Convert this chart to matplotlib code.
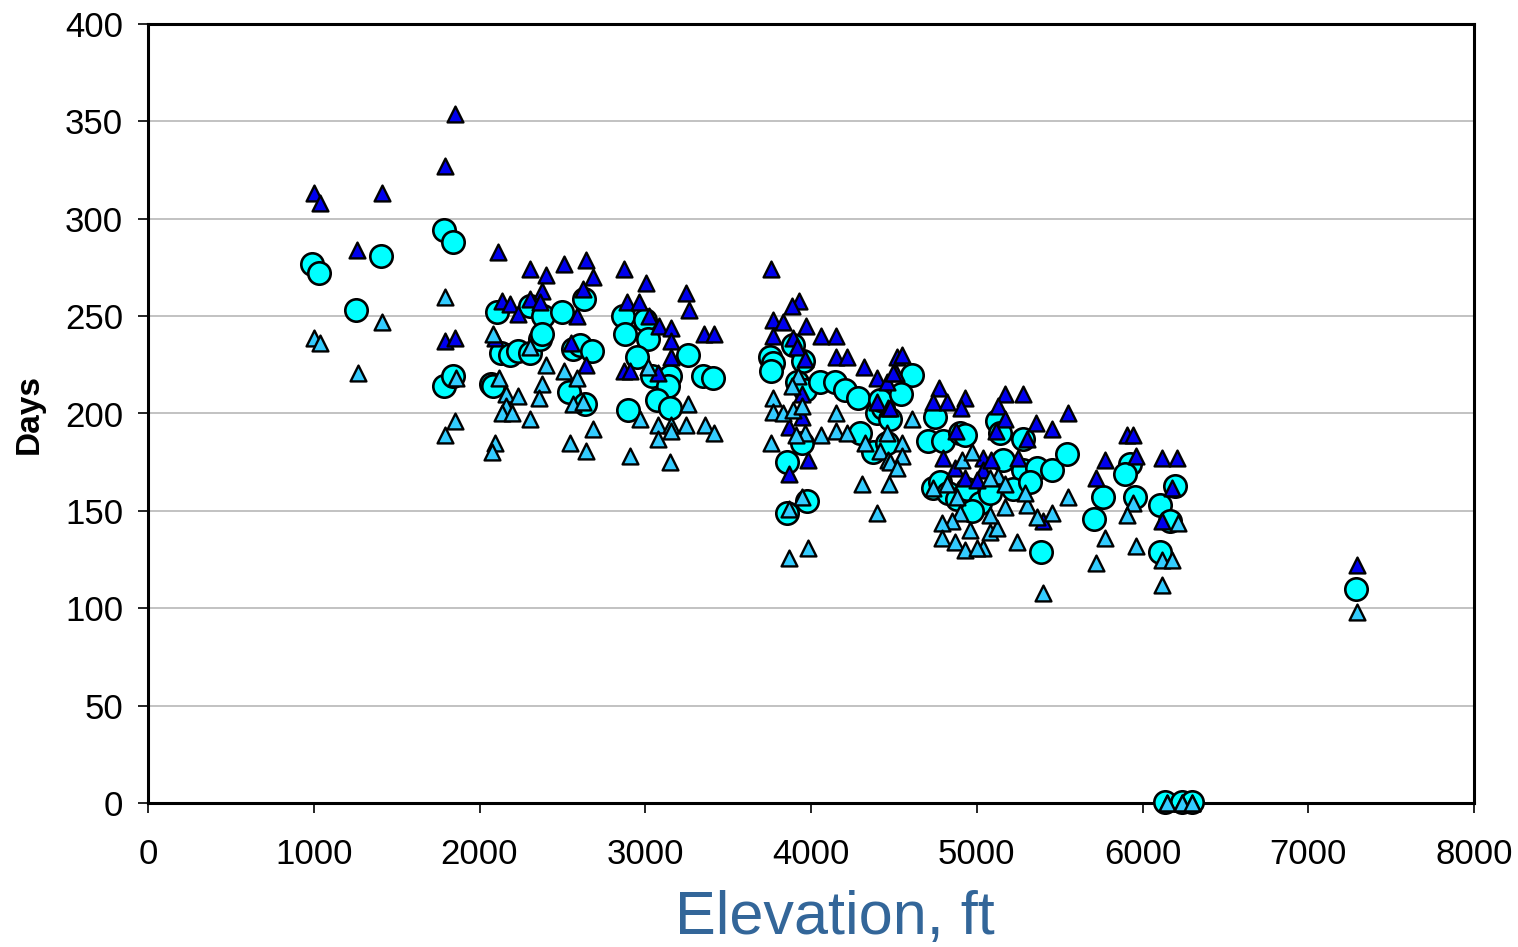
import matplotlib
matplotlib.use('Agg')
import matplotlib.pyplot as plt

plt.rcParams['font.family'] = ['Liberation Sans', 'DejaVu Sans']

# upper series (dark triangles)
hi_x = [1001, 1038, 1261, 1412, 1792, 1852, 1792, 1852, 2112, 2305, 2401, 2510, 2643, 2685,
        2377, 2624, 2136, 2184, 2305, 2365, 2232, 2588, 2094, 2552, 2643, 2870, 2890, 3004,
        3245, 3264, 2962, 3022, 3083, 3155, 3354, 3415, 3155, 3155, 2872, 2908, 3077,
        3758, 3927, 3885, 3771, 3831, 3970, 4060, 4151, 3771, 3891, 3915, 3964, 4151, 4217,
        4320, 4398, 4458, 4519, 4513, 3946, 4398, 4465, 3946, 3867, 3982, 3867,
        4549, 4495, 4772, 4736, 4820, 4929, 4905, 5170, 5279, 5128, 5170, 5116, 4875, 5303,
        4796, 4869, 5038, 5038, 4929, 5001, 5086, 5249, 4477,
        5550, 5357, 5454, 5906, 5942, 5773, 5960, 6117, 6208, 5719, 6178, 6117, 5400,
        6150, 6238, 6298, 7294]
hi_y = [313, 308, 284, 313, 327, 354, 237, 239, 283, 274, 271, 277, 279, 270,
        263, 264, 258, 256, 259, 257, 251, 250, 239, 236, 225, 274, 257, 267,
        262, 253, 257, 250, 245, 244, 241, 241, 237, 229, 222, 222, 221,
        274, 258, 255, 248, 247, 245, 240, 240, 240, 239, 234, 228, 229, 229,
        224, 218, 216, 229, 221, 210, 206, 203, 198, 193, 176, 169,
        230, 221, 213, 206, 206, 208, 203, 210, 210, 204, 197, 191, 191, 187,
        177, 172, 177, 171, 167, 166, 176, 177, 203,
        200, 195, 192, 189, 189, 176, 178, 177, 177, 167, 162, 145, 145,
        0, 0, 0, 122]

# middle series (cyan circles)
mean_x = [989, 1032, 1255, 1406, 1786, 1840, 1786, 1840,
          2106, 2305, 2383, 2497, 2630, 2130, 2184, 2232, 2305, 2365, 2377, 2564, 2606, 2679,
          2070, 2082, 2540, 2636,
          2866, 2998, 2878, 3016, 2950, 3258, 3040, 3149, 3348, 3409, 3137, 3071, 3149, 2896,
          3752, 3771, 3891, 3952, 3915, 3964, 4054, 4145, 4205, 4283, 4398, 4435, 3946, 4295,
          4374, 4458, 3855, 3855, 3976, 3760,
          4609, 4748, 4706, 4796, 4899, 4929, 5122, 5140, 5279, 5158, 5279, 4736, 4778, 4826,
          4881, 4941, 5019, 4971, 5080, 5219, 4416, 4477, 4540,
          5363, 5454, 5545, 5321, 5924, 5894, 6196, 5761, 5954, 6105, 5707, 6166, 5387, 6105,
          6135, 6238, 6298, 7288]
mean_y = [277, 272, 253, 281, 294, 288, 214, 219,
          252, 255, 250, 252, 259, 231, 230, 232, 231, 238, 241, 233, 235, 232,
          215, 214, 211, 205,
          250, 248, 241, 238, 229, 230, 219, 219, 219, 218, 214, 207, 203, 202,
          229, 226, 235, 227, 216, 212, 216, 216, 212, 208, 200, 203, 185, 190,
          180, 185, 175, 149, 155, 222,
          220, 198, 186, 186, 190, 189, 196, 190, 187, 176, 171, 162, 165, 159,
          156, 161, 154, 150, 159, 161, 207, 197, 210,
          172, 171, 179, 165, 174, 169, 163, 157, 157, 153, 146, 145, 129, 129,
          0.7, 0.7, 0.7, 110]

# lower series (light triangles)
lo_x = [1001, 1038, 1267, 1412, 1792, 1858, 1792, 1852,
        2118, 2160, 2232, 2377, 2359, 2160, 2136, 2196, 2305, 2401, 2510, 2588, 2564, 2624,
        2685, 2094, 2076, 2546, 2643, 2305, 2080,
        3016, 3258, 2968, 3077, 3155, 3245, 3360, 3415, 3077, 3155, 2908, 3149,
        3921, 3885, 3771, 3771, 3831, 3891, 4151, 3964, 3909, 4060, 4151, 4217, 3758, 4326,
        4416, 4458, 4465, 4307, 4471, 3946, 3867, 4398, 3982, 3867, 3946,
        4609, 4549, 4549, 4477, 4519, 4911, 4971, 5128, 5170, 4736, 4820, 4881, 4899, 4851,
        4790, 4959, 5080, 5122, 4790, 4869, 4929, 5038, 5001, 5243, 5080, 5170, 5303, 5291,
        5080,
        5550, 5942, 5906, 5363, 5454, 6214, 5773, 5960, 5719, 6117, 6178, 5400, 6117,
        6150, 6238, 6298, 7294]
lo_y = [239, 236, 221, 247, 260, 218, 189, 196,
        218, 210, 209, 215, 208, 204, 200, 200, 197, 225, 222, 218, 205, 206,
        192, 185, 180, 185, 181, 234, 241,
        224, 205, 197, 194, 194, 194, 194, 190, 187, 191, 178, 175,
        219, 214, 208, 201, 200, 202, 200, 190, 189, 189, 191, 190, 185, 185,
        181, 190, 176, 164, 164, 157, 151, 149, 131, 126, 204,
        197, 185, 178, 175, 172, 176, 180, 168, 164, 162, 164, 157, 149, 145,
        144, 140, 139, 141, 136, 134, 130, 131, 131, 134, 148, 152, 153, 159,
        167,
        157, 154, 148, 147, 149, 144, 136, 132, 123, 125, 125, 108, 112,
        0, 0, 0, 98]

fig = plt.figure(figsize=(15.18, 9.47), dpi=100)
ax = fig.add_axes([148/1518, 144/947, 1326/1518, 779/947])

ax.scatter(mean_x, mean_y, s=260, marker='o', facecolor='#00FFFF', edgecolor='black',
           linewidths=1.9, zorder=3, clip_on=False)
ax.scatter(hi_x, hi_y, s=130, marker='^', facecolor='#0000EE', edgecolor='black',
           linewidths=1.7, zorder=4, clip_on=False)
ax.scatter(lo_x, lo_y, s=130, marker='^', facecolor='#33CCFF', edgecolor='black',
           linewidths=1.7, zorder=5, clip_on=False)

ax.set_xlim(0, 8000)
ax.set_ylim(0, 400)
ax.set_xticks(range(0, 8001, 1000))
ax.set_yticks(range(0, 401, 50))
ax.yaxis.grid(True, color='#b8b8b8', linewidth=1.2)
ax.set_axisbelow(True)
for sp in ax.spines.values():
    sp.set_linewidth(2.2)
    sp.set_color('black')
ax.tick_params(axis='both', direction='out', length=7, width=1.2, labelsize=25)
ax.tick_params(axis='x', pad=18)
ax.tick_params(axis='y', pad=11)

ax.set_ylabel('Days', fontsize=24, fontweight='bold')
ax.yaxis.set_label_coords(-0.078, 0.5)
ax.set_xlabel('Elevation, ft', fontsize=44, color='#336699')
ax.xaxis.set_label_coords(0.518, -0.112)

fig.savefig('out.png', dpi=100)
